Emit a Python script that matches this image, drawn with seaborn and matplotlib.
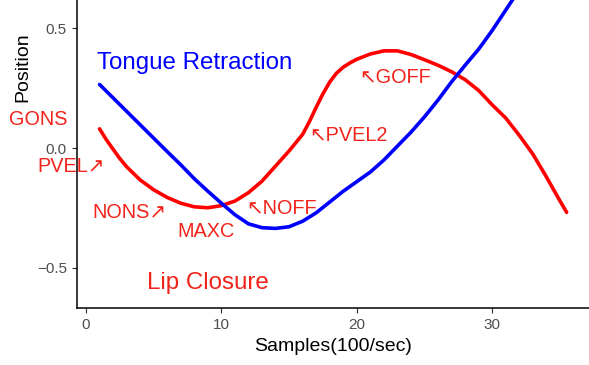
import matplotlib
matplotlib.use("Agg")
import matplotlib.pyplot as plt
import seaborn as sns
import pandas as pd

# ---- data ----
lip_x = [1, 1.5, 2, 2.5, 3, 4, 5, 6, 7, 8, 9, 10, 11, 12, 13, 14, 15, 16, 16.5, 17,
         17.5, 18, 18.5, 19, 19.5, 20, 21, 22, 23, 24, 25, 26, 27, 28, 29, 30, 31, 32,
         33, 34, 35, 35.5]
lip_y = [0.08, 0.035, -0.005, -0.044, -0.078, -0.133, -0.174, -0.206, -0.23, -0.245,
         -0.249, -0.24, -0.221, -0.186, -0.138, -0.075, -0.012, 0.057, 0.11, 0.17,
         0.226, 0.275, 0.312, 0.337, 0.355, 0.37, 0.392, 0.405, 0.405, 0.39, 0.368,
         0.345, 0.318, 0.285, 0.24, 0.18, 0.125, 0.053, -0.025, -0.12, -0.22, -0.268]

tongue_x = [1, 2, 3, 4, 5, 6, 7, 8, 9, 10, 11, 12, 13, 14, 15, 16, 17, 18, 19, 20,
            21, 22, 23, 24, 25, 26, 27, 28, 29, 30, 31, 32]
tongue_y = [0.265, 0.209, 0.153, 0.097, 0.041, -0.015, -0.07, -0.128, -0.18, -0.23,
            -0.278, -0.316, -0.332, -0.335, -0.328, -0.305, -0.27, -0.225, -0.18, -0.14,
            -0.1, -0.05, 0.008, 0.066, 0.13, 0.2, 0.276, 0.345, 0.412, 0.49, 0.575, 0.66]

x_ticks = [0, 10, 20, 30]
y_ticks = [-0.5, 0.0, 0.5]
y_ticklabels = ["\u22120.5", "0.0", "0.5"]

labels = ["GONS", "PVEL\u2197", "NONS\u2197", "MAXC", "\u2196NOFF", "\u2196PVEL2", "\u2196GOFF"]
label_x = [-3.5, 1.35, 5.96, 8.89, 11.87, 16.5, 20.2]
label_y = [0.117, -0.078, -0.268, -0.349, -0.254, 0.054, 0.295]
label_ha = ["center", "right", "right", "center", "left", "left", "left"]

lip = pd.DataFrame({"x": lip_x, "y": lip_y})
tongue = pd.DataFrame({"x": tongue_x, "y": tongue_y})

sns.set_theme(style="ticks")
plt.rcParams["font.family"] = ["Liberation Sans", "DejaVu Sans"]

fig = plt.figure(figsize=(5.89, 3.65), dpi=100)
W, H = 589.0, 365.0
ax = fig.add_axes([76.7 / W, (H - 308.3) / H, (W - 76.7) / W, 308.3 / H])

sns.lineplot(data=lip, x="x", y="y", color="#FF0000", linewidth=2.6, ax=ax, sort=False,
             solid_joinstyle="round")
sns.lineplot(data=tongue, x="x", y="y", color="#0000FF", linewidth=2.6, ax=ax, sort=False,
             solid_joinstyle="round")

ax.set_xlim(-0.687, 37.15)
ax.set_ylim(-0.668, 0.617)
ax.set_xticks(x_ticks)
ax.set_yticks(y_ticks)
ax.set_yticklabels(y_ticklabels)
ax.tick_params(axis="both", colors="#333333", labelcolor="#4D4D4D", labelsize=11,
               length=3.5, width=0.8)
for s in ["top", "right"]:
    ax.spines[s].set_visible(False)
for s in ["left", "bottom"]:
    ax.spines[s].set_color("black")
    ax.spines[s].set_linewidth(1.1)

ax.set_xlabel("Samples(100/sec)", fontsize=14, color="black")
ax.set_ylabel("Position", fontsize=14, color="black")
ax.yaxis.set_label_coords(-0.089, 0.783)

for t, x, y, ha in zip(labels, label_x, label_y, label_ha):
    ax.text(x, y, t, color="#F2231A", fontsize=14.3, ha=ha, va="center", clip_on=False)

ax.text(0.79, 0.354, "Tongue Retraction", color="#0000FF", fontsize=17.4, ha="left", va="center")
ax.text(4.48, -0.564, "Lip Closure", color="#F2231A", fontsize=17.4, ha="left", va="center")

fig.savefig("out.png", dpi=100)
